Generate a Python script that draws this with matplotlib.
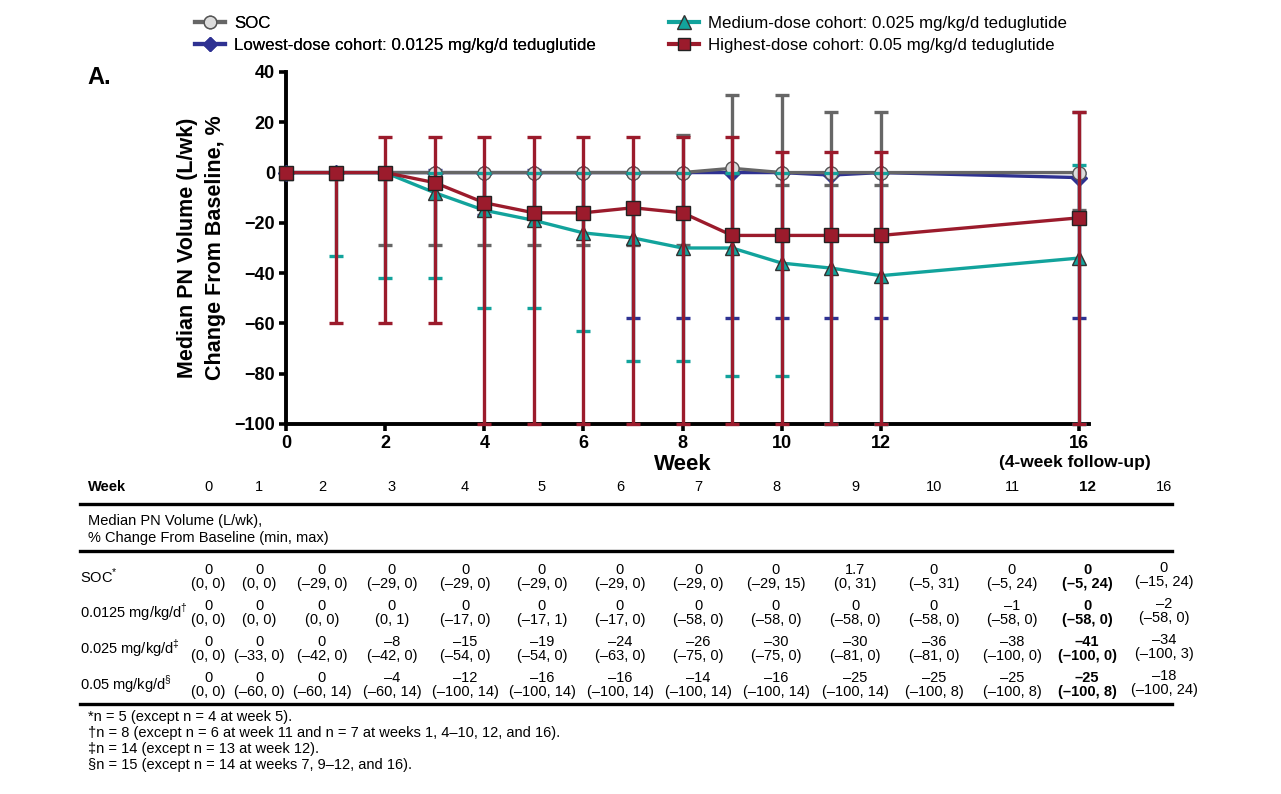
import matplotlib
matplotlib.use("Agg")
import matplotlib.pyplot as plt
from matplotlib.lines import Line2D

plt.rcParams['font.family'] = ['Liberation Sans', 'DejaVu Sans']
plt.rcParams['mathtext.fontset'] = 'custom'
plt.rcParams['mathtext.rm'] = 'Liberation Sans'

# ---------------- data ----------------
weeks = [0, 1, 2, 3, 4, 5, 6, 7, 8, 9, 10, 11, 12, 16]

soc_med = [0, 0, 0, 0, 0, 0, 0, 0, 0, 1.7, 0, 0, 0, 0]
soc_min = [0, 0, -29, -29, -29, -29, -29, -29, -29, 0, -5, -5, -5, -15]
soc_max = [0, 0, 0, 0, 0, 0, 0, 0, 15, 31, 31, 24, 24, 24]

low_med = [0, 0, 0, 0, 0, 0, 0, 0, 0, 0, 0, -1, 0, -2]
low_min = [0, 0, 0, 0, -17, -17, -17, -58, -58, -58, -58, -58, -58, -58]
low_max = [0, 0, 0, 1, 0, 1, 0, 0, 0, 0, 0, 0, 0, 0]

med_med = [0, 0, 0, -8, -15, -19, -24, -26, -30, -30, -36, -38, -41, -34]
med_min = [0, -33, -42, -42, -54, -54, -63, -75, -75, -81, -81, -100, -100, -100]
med_max = [0, 0, 0, 0, 0, 0, 0, 0, 0, 0, 0, 0, 0, 3]

high_med = [0, 0, 0, -4, -12, -16, -16, -14, -16, -25, -25, -25, -25, -18]
high_min = [0, -60, -60, -60, -100, -100, -100, -100, -100, -100, -100, -100, -100, -100]
high_max = [0, 0, 14, 14, 14, 14, 14, 14, 14, 14, 8, 8, 8, 24]

legend_labels = ["SOC",
                 "Lowest-dose cohort: 0.0125 mg/kg/d teduglutide",
                 "Medium-dose cohort: 0.025 mg/kg/d teduglutide",
                 "Highest-dose cohort: 0.05 mg/kg/d teduglutide"]
row_labels = [r"SOC$^{*}$", r"0.0125 mg/kg/d$^{\dagger}$",
              r"0.025 mg/kg/d$^{\ddagger}$", r"0.05 mg/kg/d$^{\S}$"]
footnotes = ["*n = 5 (except n = 4 at week 5).",
             "\u2020n = 8 (except n = 6 at week 11 and n = 7 at weeks 1, 4\u201310, 12, and 16).",
             "\u2021n = 14 (except n = 13 at week 12).",
             "\u00a7n = 15 (except n = 14 at weeks 7, 9\u201312, and 16)."]
xticks = [0, 2, 4, 6, 8, 10, 12, 16]
yticks = [-100, -80, -60, -40, -20, 0, 20, 40]

# ---------------- style ----------------
W, H = 1281, 794
GRAY = "#666666"
BLUE = "#2e3192"
TEAL = "#12a39c"
RED = "#9b1b2c"

fig = plt.figure(figsize=(W / 100, H / 100), dpi=100)


def fx(x):
    return x / W


def fy(y):
    return 1 - y / H


ax = fig.add_axes([fx(286), fy(424), fx(1089) - fx(286), fy(72) - fy(424)])
ax.set_xlim(0, 16.2)
ax.set_ylim(-100, 40)

series = [
    (low_med, low_min, low_max, BLUE, "D", BLUE, BLUE, 8),
    (soc_med, soc_min, soc_max, GRAY, "o", "#dcdcdc", "#555555", 9.5),
    (med_med, med_min, med_max, TEAL, "^", TEAL, "#333333", 10),
    (high_med, high_min, high_max, RED, "s", RED, "#222222", 9.5),
]
for z, (med, mn, mx, col, mk, fc, ec, ms) in enumerate(series):
    lo = [m - a for m, a in zip(med, mn)]
    hi = [b - m for m, b in zip(med, mx)]
    ax.errorbar(weeks, med, yerr=[lo, hi], fmt='none', ecolor=col, elinewidth=2.4,
                capsize=4.8, capthick=2.4, zorder=3 + 2 * z, clip_on=False)
    ax.plot(weeks, med, color=col, lw=2.4, marker=mk, markersize=ms,
            markerfacecolor=fc, markeredgecolor=ec, markeredgewidth=1.0,
            zorder=4 + 2 * z, clip_on=False)

ax.spines['top'].set_visible(False)
ax.spines['right'].set_visible(False)
for s in ['left', 'bottom']:
    ax.spines[s].set_linewidth(2.8)
ax.set_xticks(xticks)
ax.set_yticks(yticks)
ax.set_yticklabels([f"{v}".replace("-", "\u2212") for v in yticks])
ax.tick_params(direction='out', length=5, width=2.6, labelsize=13, pad=3)
for lab in ax.get_xticklabels() + ax.get_yticklabels():
    lab.set_fontweight('bold')

ax.set_ylabel("Median PN Volume (L/wk)\nChange From Baseline, %",
              fontsize=15.5, fontweight='bold', linespacing=1.4, labelpad=6)
fig.text(fx(683), fy(465), "Week", fontsize=16, fontweight='bold',
         ha='center', va='center')
fig.text(fx(1075), fy(462), "(4-week follow-up)", fontsize=12.5, fontweight='bold',
         ha='center', va='center')
fig.text(fx(87), fy(78), "A.", fontsize=17, fontweight='bold', ha='left', va='center')

# ---------------- legend ----------------
handles = []
for (med, mn, mx, col, mk, fc, ec, ms) in [series[1], series[0], series[2], series[3]]:
    handles.append(Line2D([0], [0], color=col, lw=3, marker=mk, markersize=ms * 0.95,
                          markerfacecolor=fc, markeredgecolor=ec, markeredgewidth=1.0))
leg_kw = dict(loc='upper left', frameon=False, fontsize=12.2, handlelength=1.75,
              handletextpad=0.55, labelspacing=0.4, borderaxespad=0, borderpad=0)
leg1 = fig.legend(handles[:2], legend_labels[:2], bbox_to_anchor=(fx(195), fy(16)), **leg_kw)
leg2 = fig.legend(handles[2:], legend_labels[2:], bbox_to_anchor=(fx(669), fy(16)), **leg_kw)
fig.add_artist(leg1)

# ---------------- table ----------------
col_x = [208, 259, 322, 392, 465, 542, 620, 698, 776, 855, 934, 1012, 1087, 1164]
TFS = 10.5


def fmt(v):
    s = f"{v:g}"
    return s.replace("-", "\u2013")


fig.text(fx(88), fy(487), "Week", fontsize=TFS, fontweight='bold', ha='left', va='center')
for x, w in zip(col_x, weeks):
    fig.text(fx(x), fy(487), str(w), fontsize=TFS + (0.5 if w == 12 else 0),
             fontweight='bold' if w == 12 else 'normal', ha='center', va='center')

for y in [504, 551, 704]:
    fig.add_artist(Line2D([fx(80), fx(1172)], [fy(y), fy(y)], color='black', lw=2.4,
                          transform=fig.transFigure))

fig.text(fx(88), fy(521), "Median PN Volume (L/wk),", fontsize=TFS, ha='left', va='center')
fig.text(fx(88), fy(538), "% Change From Baseline (min, max)", fontsize=TFS,
         ha='left', va='center')

rows = [(soc_med, soc_min, soc_max), (low_med, low_min, low_max),
        (med_med, med_min, med_max), (high_med, high_min, high_max)]
row_y = [570, 606, 642, 678]
for (med, mn, mx), lab, y0 in zip(rows, row_labels, row_y):
    fig.text(fx(80), fy(y0 + 6), lab, fontsize=TFS, ha='left', va='center')
    for i, (x, w) in enumerate(zip(col_x, weeks)):
        bold = 'bold' if w == 12 else 'normal'
        dy = -2 if w == 16 else 0
        fig.text(fx(x), fy(y0 + dy), fmt(med[i]), fontsize=TFS, fontweight=bold,
                 ha='center', va='center')
        fig.text(fx(x), fy(y0 + 14 + dy), f"({fmt(mn[i])}, {fmt(mx[i])})", fontsize=TFS,
                 fontweight=bold, ha='center', va='center')

for i, t in enumerate(footnotes):
    fig.text(fx(88), fy(716.5 + 16.3 * i), t, fontsize=TFS, ha='left', va='center')

fig.savefig("out.png", dpi=100)
